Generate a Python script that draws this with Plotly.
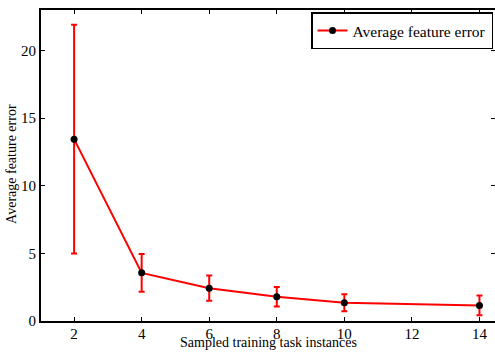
import plotly.graph_objects as go

# Data
task_instances = [2, 4, 6, 8, 10, 14]
avg_feature_error = [13.45, 3.56, 2.43, 1.79, 1.35, 1.15]
error_bar = [8.45, 1.39, 0.94, 0.72, 0.62, 0.73]
x_ticks = [2, 4, 6, 8, 10, 12, 14]
y_ticks = [0, 5, 10, 15, 20]

series_name = "Average feature error"
x_title = "Sampled training task instances"
y_title = "Average feature error"

FONT = "Liberation Serif, Times New Roman, serif"

fig = go.Figure()
fig.add_trace(go.Scatter(
    x=task_instances, y=avg_feature_error,
    mode="lines+markers",
    name=series_name,
    line=dict(color="#ff0000", width=2),
    marker=dict(color="black", size=7),
    error_y=dict(type="data", array=error_bar, visible=True,
                 color="#ff0000", thickness=2, width=3),
))
# invisible trace to carry right-side tick marks
fig.add_trace(go.Scatter(
    x=task_instances, y=avg_feature_error, yaxis="y2",
    mode="lines", opacity=0, showlegend=False, hoverinfo="skip",
))

fig.update_layout(
    width=495, height=352,
    margin=dict(l=41, r=0, t=10, b=31),
    paper_bgcolor="white", plot_bgcolor="white",
    font=dict(family=FONT, size=15, color="black"),
    showlegend=True,
    legend=dict(x=0.9956, y=0.992, xanchor="right", yanchor="top",
                bgcolor="white", bordercolor="black", borderwidth=1.5,
                font=dict(family=FONT, size=15.5, color="black"),
                tracegroupgap=0, itemwidth=30),
    xaxis=dict(range=[1.02, 14.46], tickvals=x_ticks,
               showgrid=False, zeroline=False,
               showline=True, linecolor="black", linewidth=2,
               mirror="ticks", ticks="inside", ticklen=4, tickwidth=1,
               tickcolor="black", tickfont=dict(size=15),
               ticklabelstandoff=-2),
    yaxis=dict(range=[0, 23], tickvals=y_ticks,
               showgrid=False, zeroline=False,
               showline=True, linecolor="black", linewidth=2,
               mirror=False, ticks="inside", ticklen=4, tickwidth=1,
               tickcolor="black", tickfont=dict(size=15)),
    yaxis2=dict(range=[0, 23], tickvals=y_ticks, overlaying="y", side="right",
                showgrid=False, zeroline=False, showline=False,
                ticks="inside", ticklen=4, tickwidth=1, tickcolor="black",
                showticklabels=False),
    annotations=[
        dict(text=x_title, xref="paper", yref="paper", x=0.5, y=-0.1,
             xanchor="center", yanchor="bottom", showarrow=False,
             font=dict(family=FONT, size=14, color="black")),
        dict(text=y_title, xref="paper", yref="paper", x=-0.064, y=0.505,
             xanchor="center", yanchor="middle", showarrow=False, textangle=-90,
             font=dict(family=FONT, size=14, color="black")),
    ],
)

fig.write_html("out.html")
